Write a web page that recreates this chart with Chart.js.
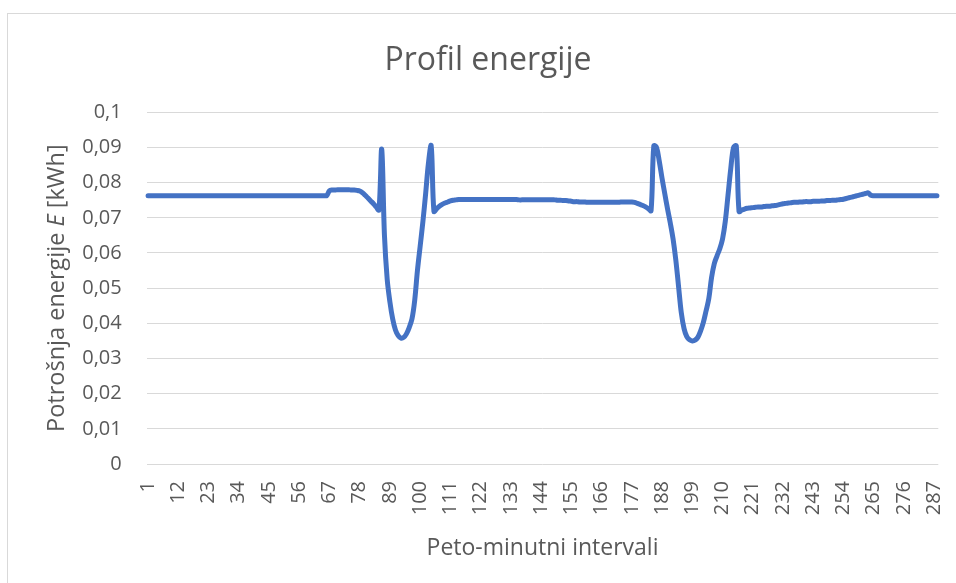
<!DOCTYPE html>
<html>
<head>
<meta charset="utf-8">
<script src="https://cdn.jsdelivr.net/npm/chart.js@4.4.1/dist/chart.umd.min.js"></script>
<style>
  html, body { margin: 0; padding: 0; background: #fff; overflow: hidden; }
  #box {
    position: absolute; left: 7px; top: 13px;
    width: 968px; height: 580px;
    border: 1px solid #d9d9d9; box-sizing: border-box;
  }
</style>
</head>
<body>
<div id="box"><canvas id="energyChart"></canvas></div>
<script>
// podaci
const chartTitle = 'Profil energije';
const xTitle = 'Peto-minutni intervali';
const yTitleParts = ['Potrošnja energije ', 'E', ' [kWh]'];

// 288 peto-minutnih intervala (1..288)
const intervals = Array.from({ length: 288 }, (_, i) => String(i + 1));
// oznake koje se prikazuju na osi x
const shownTicks = ['1', '12', '23', '34', '45', '56', '67', '78', '89', '100', '111', '122', '133',
  '144', '155', '166', '177', '188', '199', '210', '221', '232', '243', '254', '265', '276', '287'];

const energy = [
  0.0763, 0.0763, 0.0763, 0.0763, 0.0763, 0.0763, 0.0763, 0.0763, 0.0763, 0.0763, // 1-10
  0.0763, 0.0763, 0.0763, 0.0763, 0.0763, 0.0763, 0.0763, 0.0763, 0.0763, 0.0763, // 11-20
  0.0763, 0.0763, 0.0763, 0.0763, 0.0763, 0.0763, 0.0763, 0.0763, 0.0763, 0.0763, // 21-30
  0.0763, 0.0763, 0.0763, 0.0763, 0.0763, 0.0763, 0.0763, 0.0763, 0.0763, 0.0763, // 31-40
  0.0763, 0.0763, 0.0763, 0.0763, 0.0763, 0.0763, 0.0763, 0.0763, 0.0763, 0.0763, // 41-50
  0.0763, 0.0763, 0.0763, 0.0763, 0.0763, 0.0763, 0.0763, 0.0763, 0.0763, 0.0763, // 51-60
  0.0763, 0.0763, 0.0763, 0.0763, 0.0763, 0.0763, 0.0777, 0.0779, 0.0779, 0.0780, // 61-70
  0.0780, 0.0780, 0.0780, 0.0780, 0.0779, 0.0779, 0.0778, 0.0776, 0.0771, 0.0764, // 71-80
  0.0756, 0.0748, 0.0740, 0.0731, 0.0722, 0.0895, 0.0650, 0.0525, 0.0460, 0.0412, // 81-90
  0.0381, 0.0365, 0.0358, 0.0360, 0.0370, 0.0388, 0.0412, 0.0465, 0.0550, 0.0620, // 91-100
  0.0690, 0.0770, 0.0855, 0.0905, 0.0718, 0.0726, 0.0733, 0.0738, 0.0742, 0.0745, // 101-110
  0.0748, 0.0750, 0.0751, 0.0752, 0.0752, 0.0752, 0.0752, 0.0752, 0.0752, 0.0752, // 111-120
  0.0752, 0.0752, 0.0752, 0.0752, 0.0752, 0.0752, 0.0752, 0.0752, 0.0752, 0.0752, // 121-130
  0.0752, 0.0752, 0.0752, 0.0752, 0.0752, 0.0751, 0.0751, 0.0751, 0.0751, 0.0751, // 131-140
  0.0751, 0.0751, 0.0751, 0.0751, 0.0751, 0.0751, 0.0751, 0.0751, 0.0751, 0.0750, // 141-150
  0.0750, 0.0749, 0.0749, 0.0748, 0.0747, 0.0746, 0.0746, 0.0745, 0.0745, 0.0745, // 151-160
  0.0744, 0.0744, 0.0744, 0.0744, 0.0744, 0.0744, 0.0744, 0.0744, 0.0744, 0.0744, // 161-170
  0.0744, 0.0744, 0.0745, 0.0745, 0.0745, 0.0745, 0.0745, 0.0744, 0.0741, 0.0738, // 171-180
  0.0735, 0.0731, 0.0726, 0.0720, 0.0905, 0.0900, 0.0860, 0.0812, 0.0768, 0.0725, // 181-190
  0.0685, 0.0640, 0.0580, 0.0505, 0.0430, 0.0385, 0.0362, 0.0353, 0.0350, 0.0352, // 191-200
  0.0360, 0.0378, 0.0402, 0.0435, 0.0470, 0.0530, 0.0570, 0.0592, 0.0612, 0.0640, // 201-210
  0.0690, 0.0765, 0.0840, 0.0900, 0.0905, 0.0718, 0.0722, 0.0725, 0.0727, 0.0728, // 211-220
  0.0729, 0.0730, 0.0731, 0.0731, 0.0732, 0.0733, 0.0733, 0.0734, 0.0735, 0.0736, // 221-230
  0.0738, 0.0740, 0.0741, 0.0742, 0.0743, 0.0744, 0.0744, 0.0745, 0.0745, 0.0746, // 231-240
  0.0746, 0.0746, 0.0747, 0.0747, 0.0747, 0.0748, 0.0748, 0.0749, 0.0749, 0.0750, // 241-250
  0.0750, 0.0751, 0.0752, 0.0753, 0.0755, 0.0757, 0.0759, 0.0761, 0.0763, 0.0765, // 251-260
  0.0767, 0.0769, 0.0771, 0.0764, 0.0763, 0.0763, 0.0763, 0.0763, 0.0763, 0.0763, // 261-270
  0.0763, 0.0763, 0.0763, 0.0763, 0.0763, 0.0763, 0.0763, 0.0763, 0.0763, 0.0763, // 271-280
  0.0763, 0.0763, 0.0763, 0.0763, 0.0763, 0.0763, 0.0763, 0.0763                  // 281-288
];

const textColor = '#595959';
const gridColor = '#d9d9d9';
const fontFamily = '"Open Sans", "Noto Sans", sans-serif';

// naslov grafikona i naslov osi y (s kurzivnim E)
const titlesPlugin = {
  id: 'titles',
  afterDraw(chart) {
    const { ctx, chartArea, width } = chart;
    ctx.save();
    ctx.fillStyle = textColor;
    ctx.textAlign = 'center';
    ctx.textBaseline = 'alphabetic';
    ctx.font = '32px ' + fontFamily;
    ctx.fillText(chartTitle, 480, 56);

    const fonts = ['23.5px ' + fontFamily, 'italic 23.5px ' + fontFamily, '23.5px ' + fontFamily];
    ctx.translate(56, (chartArea.top + chartArea.bottom) / 2);
    ctx.rotate(-Math.PI / 2);
    ctx.textAlign = 'left';
    const widths = yTitleParts.map((t, i) => { ctx.font = fonts[i]; return ctx.measureText(t).width; });
    let x = -widths.reduce((a, b) => a + b, 0) / 2;
    yTitleParts.forEach((t, i) => {
      ctx.font = fonts[i];
      ctx.fillText(t, x, 0);
      x += widths[i];
    });
    ctx.restore();
  }
};

const ctx = document.getElementById('energyChart').getContext('2d');
new Chart(ctx, {
  type: 'line',
  data: {
    labels: intervals,
    datasets: [{
      label: 'E',
      data: energy,
      borderColor: '#4472C4',
      borderWidth: 5,
      borderCapStyle: 'round',
      borderJoinStyle: 'round',
      pointRadius: 0,
      tension: 0.35,
      fill: false
    }]
  },
  options: {
    responsive: true,
    maintainAspectRatio: false,
    animation: false,
    layout: { padding: { left: 0, right: 35.7, top: 98.3, bottom: 0 } },
    plugins: {
      legend: { display: false },
      tooltip: { enabled: false },
      title: { display: false }
    },
    scales: {
      x: {
        type: 'category',
        offset: true,
        grid: { display: false, drawTicks: false },
        border: { display: false },
        ticks: {
          autoSkip: false,
          minRotation: 90,
          maxRotation: 90,
          padding: 17,
          color: textColor,
          font: { family: fontFamily, size: 20 },
          callback: function (val, index) {
            const lab = intervals[index];
            return shownTicks.includes(lab) ? lab : '';
          }
        },
        title: {
          display: true,
          text: xTitle,
          color: textColor,
          font: { family: fontFamily, size: 23 },
          padding: { top: 0, bottom: 30 }
        },
        afterFit: function (scale) {
          scale.height = 128;
          scale.paddingLeft = 0;
          scale.paddingRight = 0;
        }
      },
      y: {
        min: 0,
        max: 0.1,
        grid: { color: gridColor, lineWidth: 1, drawTicks: false },
        border: { display: false },
        ticks: {
          stepSize: 0.01,
          padding: 25,
          color: textColor,
          font: { family: fontFamily, size: 20 },
          callback: v => String(Number(v.toFixed(2))).replace('.', ',')
        },
        afterFit: function (scale) {
          scale.width = 138.7;
          scale.paddingTop = 0;
          scale.paddingBottom = 0;
        }
      }
    }
  },
  plugins: [titlesPlugin]
});
</script>
</body>
</html>
